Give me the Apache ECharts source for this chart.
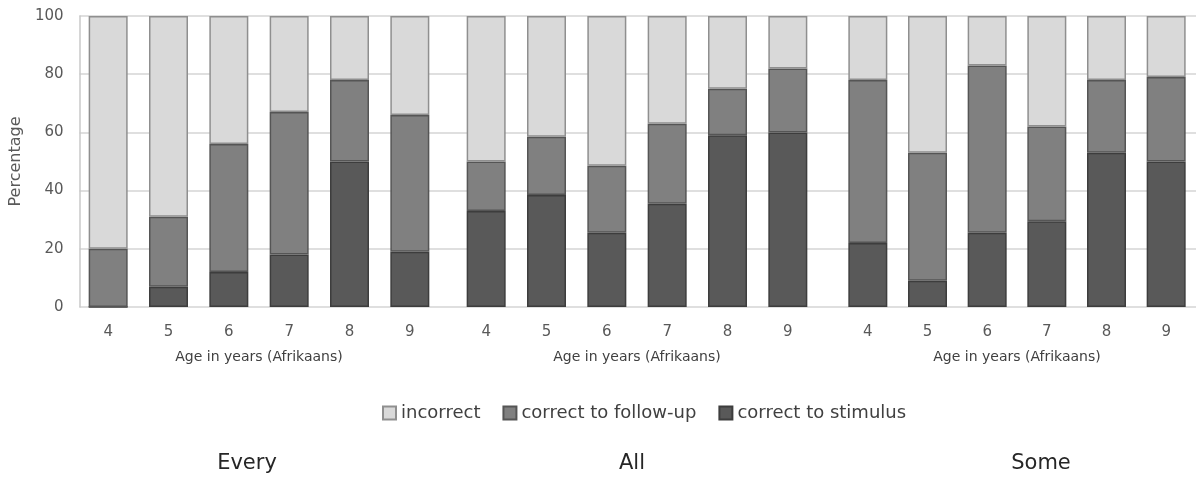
<!DOCTYPE html>
<html>
<head>
<meta charset="utf-8">
<script src="https://cdn.jsdelivr.net/npm/echarts@6/dist/echarts.min.js"></script>
<style>
html,body{margin:0;padding:0;background:#fff;}
#chart{width:1196px;height:480px;}
</style>
</head>
<body>
<div id="chart"></div>
<script>
// ---- data ----
var ages = ['4', '5', '6', '7', '8', '9'];
var groupTitles = ['Every', 'All', 'Some'];
var axisTitle = 'Age in years (Afrikaans)';
var seriesNames = ['incorrect', 'correct to follow-up', 'correct to stimulus'];
var yTicks = [0, 20, 40, 60, 80, 100];

var everyStimulus  = [0, 7, 12, 18, 50, 19];
var everyFollowUp  = [20, 24, 44, 49, 28, 47];
var everyIncorrect = [80, 69, 44, 33, 22, 34];

var allStimulus  = [33, 38.5, 25.5, 35.5, 59, 60];
var allFollowUp  = [17, 20, 23, 27.5, 16, 22];
var allIncorrect = [50, 41.5, 51.5, 37, 25, 18];

var someStimulus  = [22, 9, 25.5, 29.5, 53, 50];
var someFollowUp  = [56, 44, 57.5, 32.5, 25, 29];
var someIncorrect = [22, 47, 17, 38, 22, 21];

// ---- styling / layout ----
var FONT = 'DejaVu Sans';
var colors = {
  'correct to stimulus': {fill: '#595959', border: '#3d3d3d'},
  'correct to follow-up': {fill: '#808080', border: '#555555'},
  'incorrect': {fill: '#d9d9d9', border: '#8f8f8f'}
};
var groupData = [
  {stim: everyStimulus, follow: everyFollowUp, inc: everyIncorrect},
  {stim: allStimulus, follow: allFollowUp, inc: allIncorrect},
  {stim: someStimulus, follow: someFollowUp, inc: someIncorrect}
];
var gridLefts = [78, 456, 838];
var gridWidths = [362, 362, 361];
var titleCenters = [247, 632, 1041];

var grids = [{left: 78, right: 0, top: 16, bottom: 173}];
var xAxes = [{gridIndex: 0, type: 'category', data: ages, show: false}];
var yAxes = [{
  gridIndex: 0, type: 'value', min: 0, max: 100, interval: 20,
  name: 'Percentage', nameLocation: 'middle', nameGap: 52, nameRotate: 90,
  nameTextStyle: {fontFamily: FONT, fontSize: 16, color: '#595959'},
  axisLine: {show: true, lineStyle: {color: '#c8c8c8', width: 1.5}},
  axisTick: {show: false},
  axisLabel: {fontFamily: FONT, fontSize: 15, color: '#595959', margin: 16},
  splitLine: {show: true, lineStyle: {color: '#d4d4d4', width: 1.5}}
}];
var series = [];
var graphics = [];

groupData.forEach(function (g, i) {
  var gi = i + 1;
  grids.push({left: gridLefts[i], width: gridWidths[i], top: 16, bottom: 173});
  xAxes.push({
    gridIndex: gi, type: 'category', data: ages,
    name: axisTitle, nameLocation: 'middle', nameGap: 43,
    nameTextStyle: {fontFamily: FONT, fontSize: 14, color: '#404040'},
    axisLine: {show: false}, axisTick: {show: false},
    axisLabel: {fontFamily: FONT, fontSize: 15, color: '#595959', margin: 18}
  });
  yAxes.push({gridIndex: gi, type: 'value', min: 0, max: 100, show: false, splitLine: {show: false}});
  var parts = [
    ['correct to stimulus', g.stim],
    ['correct to follow-up', g.follow],
    ['incorrect', g.inc]
  ];
  parts.forEach(function (p) {
    series.push({
      name: p[0], type: 'bar', stack: 'g' + gi,
      xAxisIndex: gi, yAxisIndex: gi,
      barWidth: 39,
      data: p[1],
      itemStyle: {color: colors[p[0]].fill, borderColor: colors[p[0]].border, borderWidth: 1.5},
      emphasis: {disabled: true}
    });
  });
  graphics.push({
    type: 'text', x: titleCenters[i], y: 464,
    style: {text: groupTitles[i], fontFamily: FONT, fontSize: 21, fill: '#262626', align: 'center', verticalAlign: 'middle'}
  });
});

var chart = echarts.init(document.getElementById('chart'), null, {renderer: 'canvas'});
chart.setOption({
  animation: false,
  backgroundColor: '#ffffff',
  grid: grids,
  xAxis: xAxes,
  yAxis: yAxes,
  legend: {
    data: seriesNames,
    left: 377, top: 399,
    icon: 'rect', itemWidth: 13, itemHeight: 13, itemGap: 22,
    textStyle: {fontFamily: FONT, fontSize: 18, color: '#404040'}
  },
  graphic: graphics,
  series: series
});
</script>
</body>
</html>
